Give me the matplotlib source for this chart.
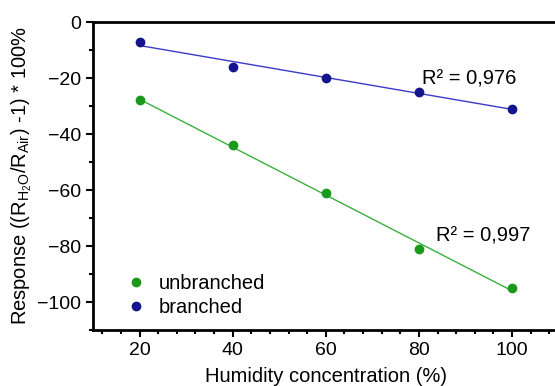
import matplotlib
matplotlib.use('Agg')
import matplotlib.pyplot as plt
import numpy as np

plt.rcParams['font.family'] = ['Liberation Sans', 'DejaVu Sans']
plt.rcParams['mathtext.fontset'] = 'custom'
plt.rcParams['mathtext.rm'] = 'Liberation Sans'
plt.rcParams['mathtext.it'] = 'Liberation Sans:italic'

# data
humidity = [20, 40, 60, 80, 100]
unbranched = [-28, -44, -61, -81, -95]
branched = [-7, -16, -20, -25, -31]
r2_labels = ['R² = 0,997', 'R² = 0,976']

green = '#1a9a1a'
blue = '#14148c'

fig = plt.figure(figsize=(5.55, 3.86), dpi=100)
ax = fig.add_axes([0.1676, 0.145, 0.839, 0.798])

x = np.array(humidity)
for vals, col, lcol, lab in [(unbranched, green, '#3cb03c', 'unbranched'),
                             (branched, blue, '#3a3ac8', 'branched')]:
    k, b = np.polyfit(x, vals, 1)
    ax.plot(x, k * x + b, color=lcol, lw=1.0, zorder=2)
    ax.plot(x, vals, 'o', color=col, ms=6, mec=col, label=lab, zorder=3)

ax.text(101, -20.5, r2_labels[1], fontsize=14.5, ha='right', va='center')
ax.text(104, -76.5, r2_labels[0], fontsize=14.5, ha='right', va='center')

ax.set_xlim(10, 110)
ax.set_ylim(-110, 0)
ax.set_xticks([20, 40, 60, 80, 100])
ax.set_xticks(np.arange(12, 110, 4), minor=True)
ax.set_yticks([0, -20, -40, -60, -80, -100])
ax.set_yticks(np.arange(-110, 1, 10), minor=True)
ax.tick_params(which='both', direction='out', width=1.5, labelsize=14)
ax.tick_params(which='major', length=5)
ax.tick_params(which='minor', length=3)
for s in ax.spines.values():
    s.set_linewidth(2)

ax.set_xlabel('Humidity concentration (%)', fontsize=14.5, labelpad=6)
ax.set_ylabel(r'Response ((R$_{\mathrm{H_2O}}$/R$_{\mathrm{Air}}$) -1) * 100%', fontsize=14.5, labelpad=2)

ax.legend(loc='lower left', bbox_to_anchor=(0.05, 0.015), frameon=False, fontsize=14.5,
          handletextpad=0.5, borderaxespad=0, labelspacing=0.25, handlelength=1.2)

fig.savefig('out.png', dpi=100)
